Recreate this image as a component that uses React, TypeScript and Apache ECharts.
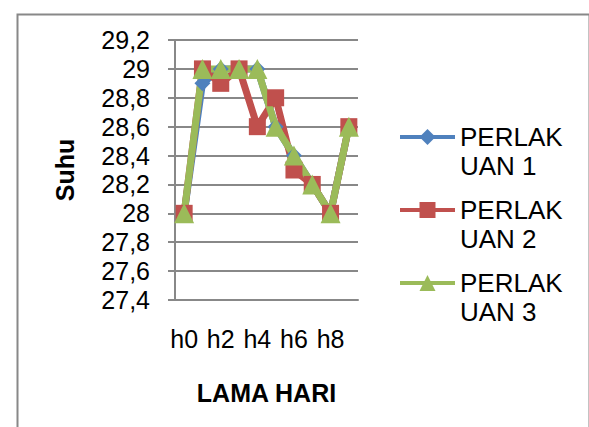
import React, { useEffect, useRef } from "react";
import * as echarts from "echarts";

const categories = ["h0", "h1", "h2", "h3", "h4", "h5", "h6", "h7", "h8", "h9"];
const seriesNames = ["PERLAKUAN 1", "PERLAKUAN 2", "PERLAKUAN 3"];
const perlakuan1 = [28.0, 28.9, 29.0, 29.0, 29.0, 28.6, 28.4, 28.2, 28.0, 28.6];
const perlakuan2 = [28.0, 29.0, 28.9, 29.0, 28.6, 28.8, 28.3, 28.2, 28.0, 28.6];
const perlakuan3 = [28.0, 29.0, 29.0, 29.0, 29.0, 28.6, 28.4, 28.2, 28.0, 28.6];
const yMin = 27.4;
const yMax = 29.2;
const yStep = 0.2;
const xTitle = "LAMA HARI";
const yTitle = "Suhu";

const FONT = "'Liberation Sans', Arial, sans-serif";
const GREY = "#888888";

export default function App() {
  const ref = useRef<HTMLDivElement>(null);
  useEffect(() => {
    if (!ref.current) return;
    const chart = echarts.init(ref.current, undefined, { renderer: "svg" });
    const mk = (
      name: string,
      data: number[],
      color: string,
      symbol: string,
      size: number
    ) => ({
      name,
      type: "line",
      data,
      symbol,
      symbolSize: size,
      showAllSymbol: true,
      itemStyle: { color },
      lineStyle: { color, width: 7 },
      emphasis: { disabled: true },
    });
    chart.setOption({
      animation: false,
      backgroundColor: "#ffffff",
      textStyle: { fontFamily: FONT },
      graphic: [
        {
          type: "rect",
          left: 15,
          top: 12,
          shape: { x: 0, y: 0, width: 572, height: 440 },
          style: { fill: "none", stroke: GREY, lineWidth: 2 },
          silent: true,
        },
      ],
      grid: { left: 175, right: 231, top: 40, bottom: 127, containLabel: false },
      legend: {
        left: 398,
        top: 91,
        padding: 0,
        orient: "vertical",
        itemWidth: 55,
        itemHeight: 20,
        itemGap: -19,
        lineStyle: { width: 4 },
        formatter: (n: string) => " \n" + n.replace("PERLAKUAN", "PERLAK\nUAN"),
        textStyle: {
          fontFamily: FONT,
          fontSize: 26,
          color: "#000",
          lineHeight: 29,
          padding: [5, 0, 0, 0],
        },
        data: seriesNames,
      },
      xAxis: {
        type: "category",
        data: categories,
        boundaryGap: true,
        name: xTitle,
        nameLocation: "middle",
        nameGap: 80,
        nameTextStyle: { fontFamily: FONT, fontSize: 25, fontWeight: "bold", color: "#000" },
        axisLine: { lineStyle: { color: GREY, width: 2 } },
        axisTick: { show: false },
        axisLabel: {
          interval: 1,
          margin: 26,
          fontFamily: FONT,
          fontSize: 25,
          color: "#000",
        },
        splitLine: { show: false },
      },
      yAxis: {
        type: "value",
        min: yMin,
        max: yMax,
        interval: yStep,
        name: yTitle,
        nameLocation: "middle",
        nameGap: 98,
        nameRotate: 90,
        nameTextStyle: { fontFamily: FONT, fontSize: 25, fontWeight: "bold", color: "#000" },
        axisLine: { show: true, lineStyle: { color: GREY, width: 2 } },
        axisTick: { show: true, length: 7, lineStyle: { color: GREY, width: 2 } },
        axisLabel: {
          margin: 25,
          fontFamily: FONT,
          fontSize: 25,
          color: "#000",
          formatter: (v: number) => String(Math.round(v * 10) / 10).replace(".", ","),
        },
        splitLine: { show: true, lineStyle: { color: GREY, width: 2 } },
      },
      series: [
        mk(seriesNames[0], perlakuan1, "#4F81BD", "diamond", 16),
        mk(seriesNames[1], perlakuan2, "#C0504D", "rect", 17),
        mk(seriesNames[2], perlakuan3, "#9BBB59", "triangle", 20),
      ],
    });
    return () => chart.dispose();
  }, []);
  return (
    <div
      ref={ref}
      style={{ position: "absolute", left: 0, top: 0, width: 589, height: 427 }}
    />
  );
}
